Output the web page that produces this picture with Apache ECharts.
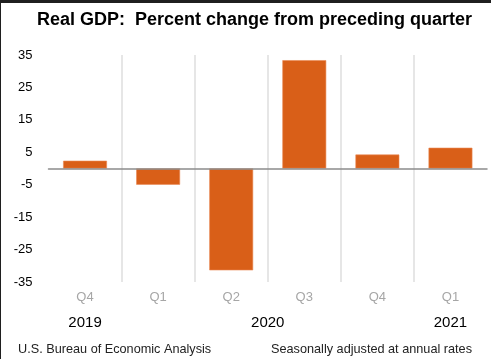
<!DOCTYPE html>
<html>
<head>
<meta charset="utf-8">
<script src="https://cdn.jsdelivr.net/npm/echarts@6/dist/echarts.min.js"></script>
<style>
  html, body { margin: 0; padding: 0; width: 491px; height: 359px; overflow: hidden; background: #1f1f1f; }
  #chart { position: absolute; left: 1px; top: 3px; width: 490px; height: 356px; background: #ffffff; }
</style>
</head>
<body>
<div id="chart"></div>
<script>
// ---- data ----
const quarters = ['Q4', 'Q1', 'Q2', 'Q3', 'Q4', 'Q1'];
const quarterYears = ['2019', '2020', '2020', '2020', '2020', '2021'];
const gdpChange = [2.4, -5.0, -31.4, 33.4, 4.3, 6.4];
const yMin = -35, yMax = 35, yStep = 10;
const titleText = 'Real GDP:  Percent change from preceding quarter';
const sourceText = 'U.S. Bureau of Economic Analysis';
const noteText = 'Seasonally adjusted at annual rates';

// group consecutive quarters by year -> label at centre of the group
const yearGroups = [];
quarterYears.forEach((y, i) => {
  const last = yearGroups[yearGroups.length - 1];
  if (last && last.year === y) last.end = i; else yearGroups.push({ year: y, start: i, end: i });
});
const yearCenters = yearGroups.map(g => (g.start + g.end + 1) / 2);
const yearLabelAt = {};
yearGroups.forEach((g, i) => { yearLabelAt[yearCenters[i]] = g.year; });

const font = '"Liberation Sans", Arial, sans-serif';
const chart = echarts.init(document.getElementById('chart'), null, { renderer: 'canvas' });
chart.setOption({
  animation: false,
  backgroundColor: '#ffffff',
  title: [
    { text: titleText, left: 36, top: 8, padding: 0,
      textStyle: { fontFamily: font, fontSize: 18, fontWeight: 'bold', color: '#000' } },
    { text: sourceText, left: 17, bottom: 3, padding: 0,
      textStyle: { fontFamily: font, fontSize: 12.7, fontWeight: 'normal', color: '#222' } },
    { text: noteText, right: 19, bottom: 3, padding: 0,
      textStyle: { fontFamily: font, fontSize: 12.7, fontWeight: 'normal', color: '#222' } }
  ],
  grid: { left: 47.5, right: 4, top: 52, bottom: 77 },
  xAxis: [
    {
      type: 'category',
      data: quarters,
      boundaryGap: true,
      z: 3,
      axisLine: { show: true, onZero: true, lineStyle: { color: '#8c8c8c', width: 1.5 } },
      axisTick: { show: false },
      axisLabel: { color: '#a6a6a6', fontFamily: font, fontSize: 13, margin: 9, interval: 0 },
      splitLine: { show: true, interval: 0, showMinLine: false, showMaxLine: false,
        lineStyle: { color: '#dedede', width: 1.5 } }
    },
    {
      type: 'value',
      min: 0, max: quarters.length,
      position: 'bottom',
      offset: 23,
      axisLine: { show: false },
      axisTick: { show: false },
      splitLine: { show: false },
      axisLabel: {
        customValues: yearCenters,
        formatter: v => yearLabelAt[v] || '',
        color: '#000', fontFamily: font, fontSize: 15, margin: 10
      }
    }
  ],
  yAxis: {
    type: 'value',
    min: yMin, max: yMax, interval: yStep,
    axisLine: { show: false },
    axisTick: { show: false },
    splitLine: { show: false },
    axisLabel: { color: '#000', fontFamily: font, fontSize: 13, margin: 16 }
  },
  series: [{
    type: 'bar',
    data: gdpChange,
    xAxisIndex: 0,
    barWidth: '60%',
    itemStyle: { color: '#D95F18', borderColor: '#E98A55', borderWidth: 0.6 }
  }]
});
</script>
</body>
</html>
